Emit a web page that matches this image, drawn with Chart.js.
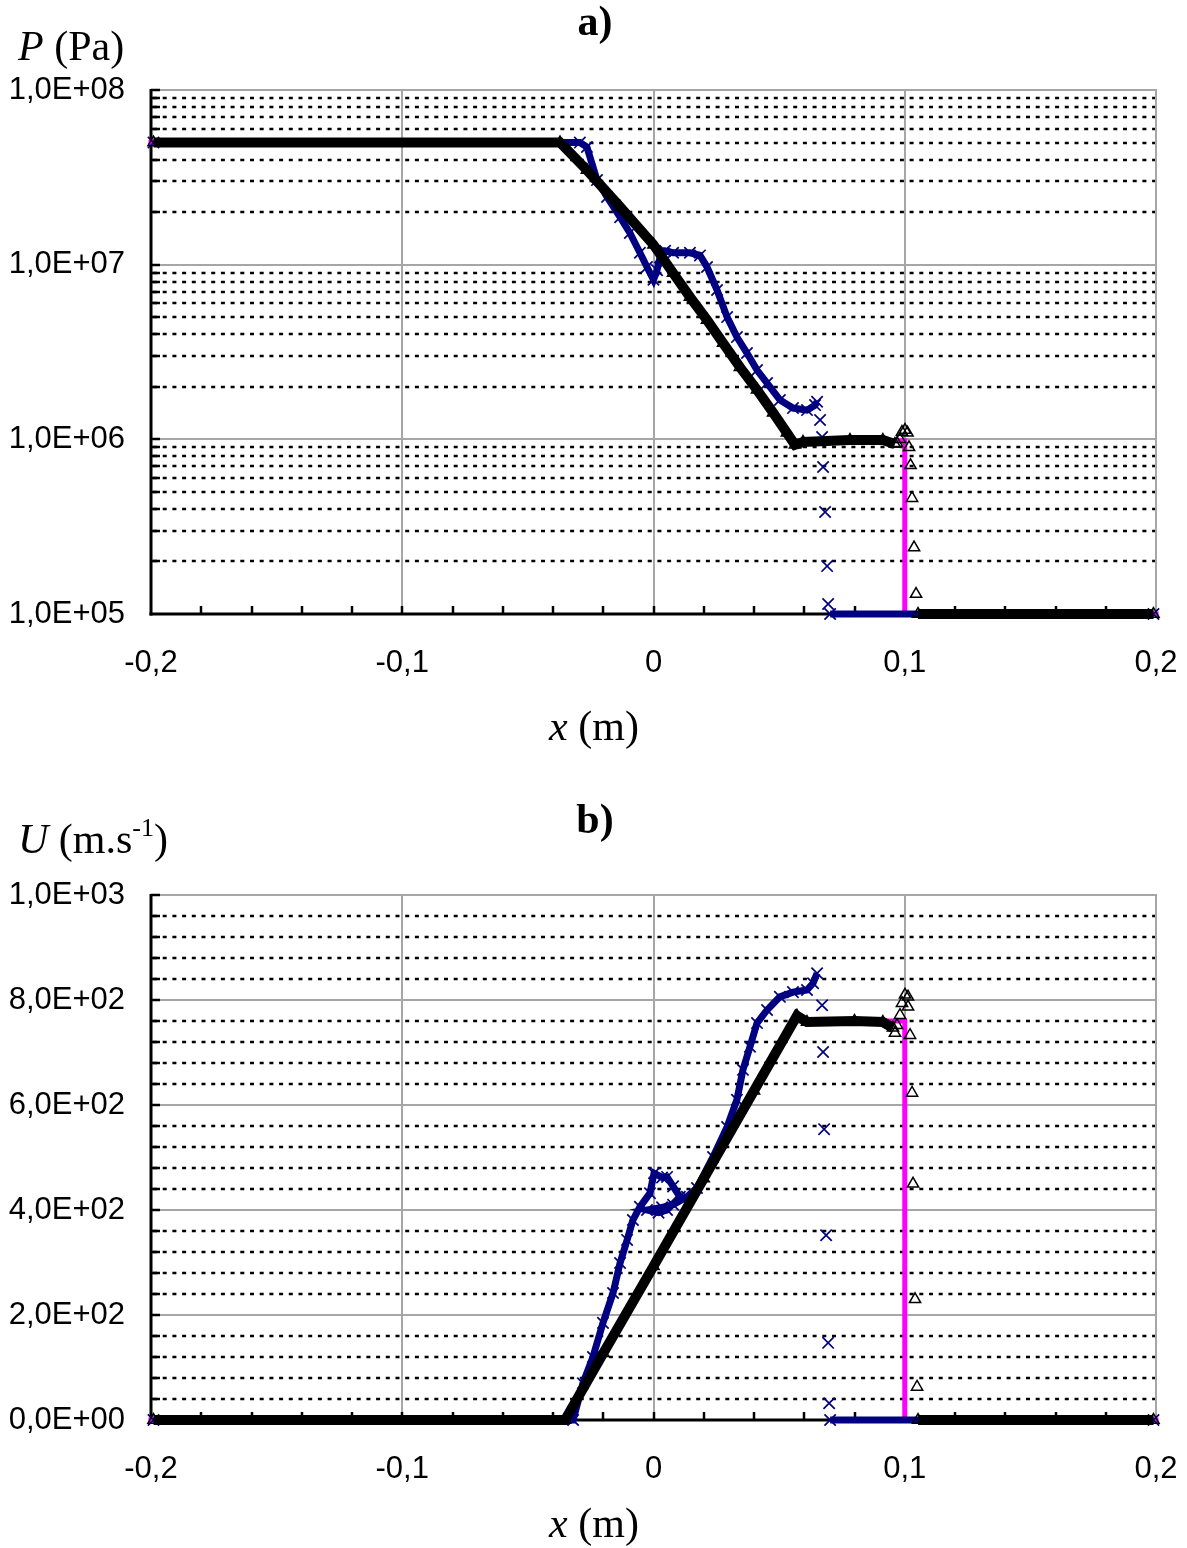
<!DOCTYPE html>
<html><head><meta charset="utf-8">
<script src="https://cdn.jsdelivr.net/npm/chart.js@4/dist/chart.umd.min.js"></script>
<style>
html,body{margin:0;padding:0;background:#fff;}
#wrap{position:relative;width:1187px;height:1548px;overflow:hidden;background:#fff;}
canvas{position:absolute;left:0;}
#c1{top:0}
#c2{top:780px}
svg{position:absolute;left:0;top:0;pointer-events:none}
</style></head><body>
<div id="wrap">
<canvas id="c1" width="1187" height="700"></canvas>
<canvas id="c2" width="1187" height="740"></canvas>
<svg width="1187" height="1548" font-family="'Liberation Serif','Times New Roman',serif" font-size="42" fill="#000">
<text x="595" y="35" text-anchor="middle" font-weight="bold">a)</text>
<text x="18" y="60"><tspan font-style="italic">P</tspan> (Pa)</text>
<text x="594" y="740" text-anchor="middle"><tspan font-style="italic">x</tspan> (m)</text>
<text x="595" y="833" text-anchor="middle" font-weight="bold">b)</text>
<text x="18" y="853"><tspan font-style="italic">U</tspan> (m.s<tspan font-size="26" dy="-17">-1</tspan><tspan dy="17">)</tspan></text>
<text x="594" y="1537" text-anchor="middle"><tspan font-style="italic">x</tspan> (m)</text>
</svg>
</div>
<script>
// ---- tick values / labels ----
const xTickValues = [-0.2, -0.1, 0, 0.1, 0.2];
const xTickLabels = ['-0,2', '-0,1', '0', '0,1', '0,2'];
const pTickValues = [1e5, 1e6, 1e7, 1e8];
const pTickLabels = ['1,0E+05', '1,0E+06', '1,0E+07', '1,0E+08'];
const uTickValues = [0, 200, 400, 600, 800, 1000];
const uTickLabels = ['0,0E+00', '2,0E+02', '4,0E+02', '6,0E+02', '8,0E+02', '1,0E+03'];

// ---- a) pressure ----
const pExactX = [-0.2, -0.0372, -0.0265, -0.0133, 0.0, 0.0145, 0.0277, 0.0412, 0.0531, 0.0565, 0.1, 0.1, 0.2];
const pExactY = [5.0e7, 5.0e7, 3.48e7, 2.14e7, 1.30e7, 6.53e6, 3.56e6, 1.92e6, 1.09e6, 9.8e5, 9.8e5, 1.0e5, 1.0e5];

const pTriX = [-0.199, -0.0372, -0.0265, -0.0133, 0.0, 0.0078, 0.0145, 0.0213, 0.0277, 0.0344, 0.0412, 0.0476, 0.0531, 0.0563, 0.0595, 0.0782, 0.0913, 0.0961, 0.1, 0.1053, 0.199];
const pTriY = [5.0e7, 5.0e7, 3.48e7, 2.14e7, 1.30e7, 8.96e6, 6.53e6, 4.82e6, 3.56e6, 2.59e6, 1.92e6, 1.42e6, 1.09e6, 9.3e5, 9.66e5, 9.9e5, 9.9e5, 9.4e5, null, 1.0e5, 1.0e5];
const pTriShockX = [0.0969, 0.0981, 0.0989, 0.1001, 0.1011, 0.1017, 0.1023, 0.1029, 0.1037, 0.1045];
const pTriShockY = [9.5e5, 1.0e6, 1.1e6, 1.13e6, 1.09e6, 9.0e5, 7.1e5, 4.6e5, 2.4e5, 1.3e5];

const pCrossX = [-0.199, -0.0293, -0.0265, -0.0225, -0.0185, -0.0133, -0.0094, -0.0054, -0.0026, 0.0, 0.0014, 0.0026, 0.0046, 0.0078, 0.0145, 0.0185, 0.0213, 0.0253, 0.0293, 0.0332, 0.0372, 0.0412, 0.0452, 0.0503, 0.0555, 0.0611, 0.0643, 0.0651, 0.068, 0.0703, 0.199];
const pCrossY = [5.0e7, 5.0e7, 4.72e7, 3.05e7, 2.44e7, 1.87e7, 1.52e7, 1.17e7, 9.7e6, 8.2e6, 9.3e6, 1.1e7, 1.2e7, 1.17e7, 1.17e7, 1.13e7, 9.7e6, 7.16e6, 5.01e6, 3.85e6, 3.12e6, 2.49e6, 2.10e6, 1.68e6, 1.51e6, 1.47e6, 1.57e6, 1.64e6, null, 1.0e5, 1.0e5];
const pCrossIsoX = [0.0663, 0.0671, 0.0675, 0.0683, 0.0691, 0.0695];
const pCrossIsoY = [1.29e6, 1.03e6, 6.95e5, 3.84e5, 1.88e5, 1.14e5];

// ---- b) velocity ----
const uExactX = [-0.2, -0.0352, 0.056, 0.1, 0.1, 0.2];
const uExactY = [0, 0, 760, 760, 0, 0];

const uTriX = [-0.199, -0.0352, -0.02, 0.0, 0.02, 0.04, 0.0571, 0.0611, 0.08, 0.0913, 0.0953, 0.1, 0.1053, 0.199];
const uTriY = [0, 0, 127, 293, 460, 627, 770, 758, 760, 758, 747, null, 0, 0];
const uTriShockX = [0.0961, 0.0969, 0.0981, 0.0989, 0.1001, 0.1013, 0.1013, 0.1021, 0.1029, 0.1033, 0.1041, 0.1049];
const uTriShockY = [737, 752, 771, 794, 810, 806, 787, 733, 623, 450, 230, 63];

const uCrossX = [-0.199, -0.032, -0.0281, -0.0241, -0.0201, -0.0161, -0.0133, -0.0105, -0.0082, -0.0054, -0.0014, 0.0002, 0.0034, 0.0054, 0.0078, 0.0105, 0.0054, 0.0020, -0.0026, 0.0034, 0.0078, 0.0133, 0.0173, 0.0237, 0.0293, 0.0332, 0.0356, 0.0384, 0.0412, 0.0452, 0.0503, 0.0555, 0.0611, 0.0635, 0.0651, 0.068, 0.0703, 0.199];
const uCrossY = [0, 0, 70, 120, 185, 242, 299, 343, 381, 406, 432, 470, 462, 463, 445, 425, 400, 395, 400, 405, 410, 425, 442, 501, 558, 610, 667, 711, 756, 781, 806, 815, 819, 832, 851, null, 0, 0];
const uCrossIsoX = [0.0671, 0.0675, 0.0679, 0.0687, 0.0695, 0.0699];
const uCrossIsoY = [790, 701, 554, 352, 147, 32];

// ---- helpers ----
const toXY = (xs, ys) => xs.map((x, i) => ({ x: x, y: ys[i] }));
const NAVY = '#000080', MAG = '#ff00ff', GREY = '#a6a6a6';
const SANS = "'Liberation Sans', Arial, sans-serif";

const frame = {
  id: 'frame',
  beforeDatasetsDraw(chart, args, o) {
    const ctx = chart.ctx, a = chart.chartArea, xs = chart.scales.x, ys = chart.scales.y;
    ctx.save();
    ctx.lineCap = 'butt';
    ctx.strokeStyle = '#000'; ctx.lineWidth = 2.5; ctx.setLineDash([4, 5.7]);
    o.yMinor.forEach(v => { const py = Math.round(ys.getPixelForValue(v)); ctx.beginPath(); ctx.moveTo(a.left + 2, py); ctx.lineTo(a.right, py); ctx.stroke(); });
    ctx.setLineDash([]);
    ctx.strokeStyle = GREY; ctx.lineWidth = 2;
    o.yMajor.forEach(v => { const py = Math.round(ys.getPixelForValue(v)); ctx.beginPath(); ctx.moveTo(a.left, py); ctx.lineTo(a.right + 1, py); ctx.stroke(); });
    o.xMajor.forEach(v => { const px = Math.round(xs.getPixelForValue(v)); ctx.beginPath(); ctx.moveTo(px, a.top); ctx.lineTo(px, a.bottom); ctx.stroke(); });
    ctx.strokeStyle = '#000'; ctx.lineWidth = 3;
    ctx.beginPath(); ctx.moveTo(a.left, a.top - 1); ctx.lineTo(a.left, a.bottom + 1.5); ctx.stroke();
    ctx.beginPath(); ctx.moveTo(a.left - 1.5, a.bottom); ctx.lineTo(a.right, a.bottom); ctx.stroke();
    ctx.lineWidth = 2.5;
    o.yMinor.concat(o.yMajor).forEach(v => { const py = Math.round(ys.getPixelForValue(v)); ctx.beginPath(); ctx.moveTo(a.left, py); ctx.lineTo(a.left + 9, py); ctx.stroke(); });
    o.xMinor.forEach(v => { const px = Math.round(xs.getPixelForValue(v)); ctx.beginPath(); ctx.moveTo(px, a.bottom); ctx.lineTo(px, a.bottom - 8); ctx.stroke(); });
    ctx.restore();
  }
};

const xMinor = []; for (let i = 1; i < 20; i++) xMinor.push(-0.2 + 0.02 * i);

function sets(triX, triY, shX, shY, crX, crY, ciX, ciY, exX, exY) {
  const tri = { pointStyle: 'triangle', pointRadius: 6.5, pointBorderColor: '#000', pointBackgroundColor: 'rgba(0,0,0,0)', pointBorderWidth: 1.5 };
  const crs = { pointStyle: 'crossRot', pointRadius: 8, pointBorderColor: NAVY, pointBackgroundColor: NAVY, pointBorderWidth: 1.7 };
  return [
    Object.assign({ data: toXY(triX, triY), showLine: true, borderColor: '#000', borderWidth: 10, clip: false, spanGaps: false }, tri),
    Object.assign({ data: toXY(shX, shY), showLine: false, clip: false }, tri),
    Object.assign({ data: toXY(crX, crY), showLine: true, borderColor: NAVY, borderWidth: 7, clip: false, spanGaps: false }, crs),
    Object.assign({ data: toXY(ciX, ciY), showLine: false, clip: false }, crs),
    { data: toXY(exX, exY), showLine: true, borderColor: MAG, borderWidth: 5, pointRadius: 0, borderCapStyle: 'square', clip: false }
  ];
}

function makeChart(id, height, top, bottomH, yScale, datasets, frameOpts) {
  return new Chart(document.getElementById(id), {
    type: 'line',
    data: { datasets: datasets },
    plugins: [frame],
    options: {
      responsive: false, animation: false, devicePixelRatio: 1, events: [],
      layout: { padding: { top: top, right: 31, left: 0, bottom: 0 } },
      plugins: { legend: { display: false }, tooltip: { enabled: false }, title: { display: false }, frame: frameOpts },
      elements: { line: { tension: 0 } },
      scales: {
        x: {
          type: 'linear', position: 'bottom', min: -0.2, max: 0.2,
          grid: { display: false, drawTicks: false }, border: { display: false },
          afterBuildTicks: s => { s.ticks = xTickValues.map(v => ({ value: v })); },
          afterFit: s => { s.height = bottomH; s.paddingLeft = 0; s.paddingRight = 0; },
          ticks: { padding: 31, color: '#000', font: { family: SANS, size: 31 }, maxRotation: 0, autoSkip: false,
                   callback: (v, i) => xTickLabels[i] }
        },
        y: yScale
      }
    }
  });
}

const yLog = {
  type: 'logarithmic', position: 'left', min: 1e5, max: 1e8,
  grid: { display: false, drawTicks: false }, border: { display: false },
  afterBuildTicks: s => { s.ticks = pTickValues.map(v => ({ value: v })); },
  afterFit: s => { s.width = 151; s.paddingTop = 0; s.paddingBottom = 0; },
  ticks: { padding: 26, color: '#000', font: { family: SANS, size: 31 }, autoSkip: false, callback: (v, i) => pTickLabels[i] }
};
const yLin = {
  type: 'linear', position: 'left', min: 0, max: 1000,
  grid: { display: false, drawTicks: false }, border: { display: false },
  afterBuildTicks: s => { s.ticks = uTickValues.map(v => ({ value: v })); },
  afterFit: s => { s.width = 151; s.paddingTop = 0; s.paddingBottom = 0; },
  ticks: { padding: 26, color: '#000', font: { family: SANS, size: 31 }, autoSkip: false, callback: (v, i) => uTickLabels[i] }
};

const pMinor = []; [1e5, 1e6, 1e7].forEach(d => { for (let k = 2; k <= 9; k++) pMinor.push(k * d); });
const uMinor = []; for (let v = 40; v < 1000; v += 40) if (v % 200 !== 0) uMinor.push(v);

makeChart('c1', 700, 90, 86, yLog,
  sets(pTriX, pTriY, pTriShockX, pTriShockY, pCrossX, pCrossY, pCrossIsoX, pCrossIsoY, pExactX, pExactY),
  { yMinor: pMinor, yMajor: [1e6, 1e7, 1e8], xMajor: [-0.1, 0, 0.1, 0.2], xMinor: xMinor });
makeChart('c2', 740, 115, 100, yLin,
  sets(uTriX, uTriY, uTriShockX, uTriShockY, uCrossX, uCrossY, uCrossIsoX, uCrossIsoY, uExactX, uExactY),
  { yMinor: uMinor, yMajor: [200, 400, 600, 800, 1000], xMajor: [-0.1, 0, 0.1, 0.2], xMinor: xMinor });
</script>
</body></html>
